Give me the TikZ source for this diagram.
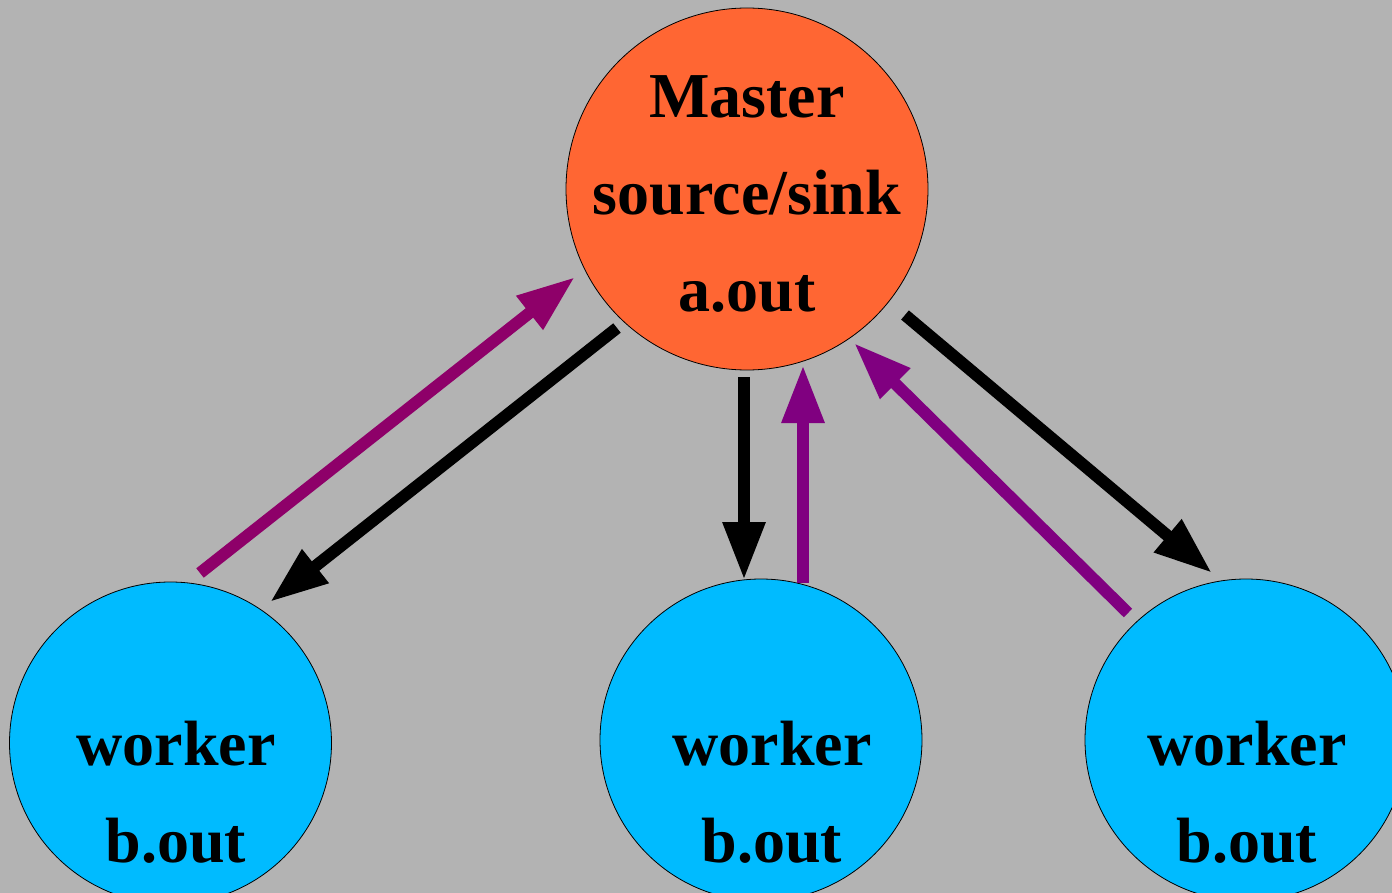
\documentclass[tikz,border=0pt]{standalone}
\usepackage{fontspec}
\setmainfont{Liberation Serif}
\usetikzlibrary{arrows.meta,calc}

\definecolor{bggray}{RGB}{179,179,179}
\definecolor{masterfill}{RGB}{255,102,51}
\definecolor{workerfill}{RGB}{0,187,255}
\definecolor{replyA}{RGB}{142,0,105}
\definecolor{replyB}{RGB}{128,0,128}

\tikzset{
  master/.style={circle, draw=black, line width=0.8pt, fill=masterfill,
                 minimum size=362pt, inner sep=0pt},
  worker/.style={circle, draw=black, line width=0.8pt, fill=workerfill,
                 minimum size=322pt, inner sep=0pt},
  lbl/.style={anchor=base, inner sep=0pt,
              font=\fontsize{64}{97}\selectfont\bfseries},
  send/.style={draw=black, line width=12pt,
               -{Triangle[length=58pt,width=40pt]}},
  reply/.style={line width=12pt,
                -{Triangle[length=58pt,width=40pt]}},
}

\begin{document}
\begin{tikzpicture}[x=1pt,y=-1pt]
  \useasboundingbox (0,0) rectangle (1392,893);
  \clip (0,0) rectangle (1392,893);
  \fill[bggray] (0,0) rectangle (1392,893);

  % processes
  \node[master] (M)  at (747,189) {};
  \node[worker] (W1) at (170.5,743) {};
  \node[worker] (W2) at (761,740) {};
  \node[worker] (W3) at (1246,740) {};

  % labels
  \node[lbl] (m1) at (747,118) {Master};
  \node[lbl] (m2) at (747,215) {source/sink};
  \node[lbl] (m3) at (747,312) {a.out};
  \node[lbl] (w1a) at (176,765) {worker};
  \node[lbl] (w1b) at (176,862) {b.out};
  \node[lbl] (w2a) at (772,765) {worker};
  \node[lbl] (w2b) at (772,862) {b.out};
  \node[lbl] (w3a) at (1247,765) {worker};
  \node[lbl] (w3b) at (1247,862) {b.out};

  % master -> workers
  \draw[send] ($(M)+(-130,139)$) -- ($(W1)+(99.5,-141)$);
  \draw[send] ($(M)+(-3,188)$)   -- ($(W2)+(-17,-160)$);
  \draw[send] ($(M)+(158,126)$)  -- ($(W3)+(-34,-167)$);

  % workers -> master
  \draw[reply, draw=replyA, fill=replyA] ($(W1)+(29.5,-170)$) -- ($(M)+(-172,88)$);
  \draw[reply, draw=replyB, fill=replyB] ($(W2)+(42,-157)$)   -- ($(M)+(56,176)$);
  \draw[reply, draw=replyB, fill=replyB] ($(W3)+(-118,-127)$) -- ($(M)+(107,154)$);
\end{tikzpicture}
\end{document}
